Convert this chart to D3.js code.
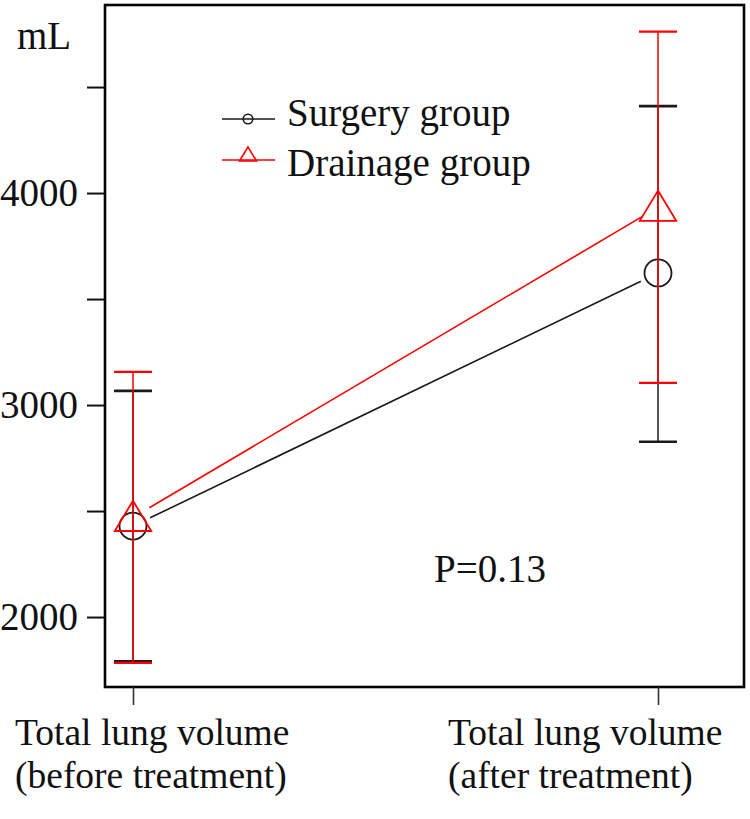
<!DOCTYPE html>
<html>
<head>
<meta charset="utf-8">
<script src="https://cdn.jsdelivr.net/npm/d3@7"></script>
<style>
  html, body { margin: 0; padding: 0; background: #fff; }
  svg { display: block; }
  text { font-family: "Liberation Serif", "Times New Roman", serif; fill: #111; }
</style>
</head>
<body>
<svg id="chart" width="750" height="819"></svg>
<script>
// ---- data ----
const categories = ["before", "after"];
const categoryLine1 = ["Total lung volume", "Total lung volume"];
const categoryLine2 = ["(before treatment)", "(after treatment)"];
const seriesNames = ["Surgery group", "Drainage group"];
const surgeryMean = [2429, 3623];
const surgeryUpper = [3067, 4410];
const surgeryLower = [1791, 2827];
const drainageMean = [2470, 3933];
const drainageUpper = [3156, 4761];
const drainageLower = [1784, 3105];
const yTicks = [2000, 2500, 3000, 3500, 4000, 4500];
const yTickLabels = ["2000", "", "3000", "", "4000", ""];
const yUnit = "mL";
const pText = "P=0.13";

// ---- layout ----
const svg = d3.select("#chart");
const frame = { left: 105, top: 5, right: 744, bottom: 687 };
const FS = 39;
const XFS = 37.5;

const y = d3.scaleLinear().domain([1670, 4887]).range([frame.bottom, frame.top]);
const x = d3.scalePoint().domain(categories).range([133, 658]);

// frame
svg.append("rect")
  .attr("x", frame.left).attr("y", frame.top)
  .attr("width", frame.right - frame.left).attr("height", frame.bottom - frame.top)
  .attr("fill", "none").attr("stroke", "#000").attr("stroke-width", 2.6);

// y axis
const yAxis = d3.axisLeft(y).tickValues(yTicks).tickSize(18).tickPadding(9)
  .tickFormat((d, i) => yTickLabels[i]);
const gy = svg.append("g").attr("transform", `translate(${frame.left},0)`).call(yAxis);
gy.select(".domain").remove();
gy.selectAll(".tick line").attr("stroke", "#111").attr("stroke-width", 2);
gy.selectAll(".tick text").attr("font-size", FS).attr("fill", "#111")
  .attr("font-family", '"Liberation Serif", "Times New Roman", serif').attr("dy", "0.33em");

// x axis ticks
const xAxis = d3.axisBottom(x).tickSize(18).tickFormat("");
const gx = svg.append("g").attr("transform", `translate(0,${frame.bottom})`).call(xAxis);
gx.select(".domain").remove();
gx.selectAll(".tick line").attr("stroke", "#333").attr("stroke-width", 1.6);

// x labels (left aligned, two lines)
const labelX = [15, 448];
categories.forEach((c, i) => {
  const t = svg.append("text").attr("x", labelX[i]).attr("y", 745).attr("font-size", XFS);
  t.append("tspan").attr("x", labelX[i]).attr("y", 745).text(categoryLine1[i]);
  t.append("tspan").attr("x", labelX[i]).attr("y", 788).text(categoryLine2[i]);
});

// unit
svg.append("text").attr("x", 17).attr("y", 49).attr("font-size", FS).text(yUnit);

// P value
svg.append("text").attr("x", 434).attr("y", 582).attr("font-size", FS).text(pText);

// series drawing
const series = [
  { name: seriesNames[0], mean: surgeryMean, up: surgeryUpper, lo: surgeryLower, color: "#1a1a1a", marker: "circle", capW: 2.6 },
  { name: seriesNames[1], mean: drainageMean, up: drainageUpper, lo: drainageLower, color: "#ff0000", marker: "triangle", capW: 2.2 }
];

function drawMarker(g, type, cx, cy, size, color) {
  if (type === "circle") {
    g.append("circle").attr("cx", cx).attr("cy", cy).attr("r", size / 2)
      .attr("fill", "none").attr("stroke", color).attr("stroke-width", 1.8);
  } else {
    const w = size * 1.35, h = size * 1.12;
    const pts = [[cx, cy - h * 0.55], [cx - w / 2, cy + h * 0.45], [cx + w / 2, cy + h * 0.45]];
    g.append("polygon").attr("points", pts.map(p => p.join(",")).join(" "))
      .attr("fill", "none").attr("stroke", color).attr("stroke-width", 1.8);
  }
}

const gap = 19;
series.forEach(s => {
  const g = svg.append("g");
  categories.forEach((c, i) => {
    const cx = x(c);
    g.append("line").attr("x1", cx).attr("x2", cx).attr("y1", y(s.up[i])).attr("y2", y(s.lo[i]))
      .attr("stroke", s.color).attr("stroke-width", 1.5);
    [s.up[i], s.lo[i]].forEach(v => {
      g.append("line").attr("x1", cx - 19).attr("x2", cx + 19).attr("y1", y(v)).attr("y2", y(v))
        .attr("stroke", s.color).attr("stroke-width", s.capW);
    });
  });
  const x0 = x(categories[0]), y0 = y(s.mean[0]);
  const x1 = x(categories[1]), y1 = y(s.mean[1]);
  const len = Math.hypot(x1 - x0, y1 - y0);
  const ux = (x1 - x0) / len, uy = (y1 - y0) / len;
  g.append("line")
    .attr("x1", x0 + ux * gap).attr("y1", y0 + uy * gap)
    .attr("x2", x1 - ux * gap).attr("y2", y1 - uy * gap)
    .attr("stroke", s.color).attr("stroke-width", 1.6);
  categories.forEach((c, i) => drawMarker(g, s.marker, x(c), y(s.mean[i]), 27, s.color));
});

// legend
const legendRows = [119, 160];
const legendText = [126, 176];
series.forEach((s, i) => {
  const g = svg.append("g");
  g.append("line").attr("x1", 222).attr("x2", 275).attr("y1", legendRows[i]).attr("y2", legendRows[i])
    .attr("stroke", s.color).attr("stroke-width", 1.6);
  if (s.marker === "circle") {
    g.append("circle").attr("cx", 248).attr("cy", legendRows[i]).attr("r", 4.8)
      .attr("fill", "none").attr("stroke", s.color).attr("stroke-width", 1.6);
  } else {
    const cy = legendRows[i];
    g.append("polygon").attr("points", `248,${cy - 13} ${239.5},${cy + 1} ${256.5},${cy + 1}`)
      .attr("fill", "none").attr("stroke", s.color).attr("stroke-width", 1.6);
  }
  g.append("text").attr("x", 287).attr("y", legendText[i]).attr("font-size", FS).text(s.name);
});
</script>
</body>
</html>
